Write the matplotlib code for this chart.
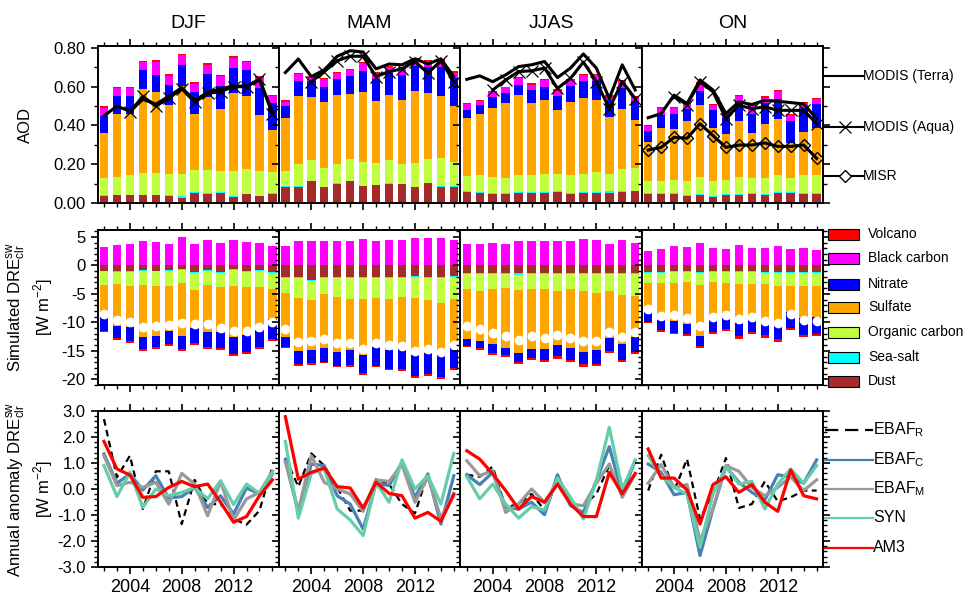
import numpy as np
import matplotlib
matplotlib.use('Agg')
import matplotlib.pyplot as plt
from matplotlib.lines import Line2D
from matplotlib.patches import Rectangle
from matplotlib.ticker import MultipleLocator, FixedLocator, FormatStrFormatter

plt.rcParams['font.family'] = ['Liberation Sans', 'DejaVu Sans']
plt.rcParams['axes.unicode_minus'] = False

seasons = ['DJF', 'MAM', 'JJAS', 'ON']
years = np.arange(2002, 2016)
nan = np.nan

# ---------------- AOD components (rows: DJF, MAM, JJAS, ON) ----------------
aod_dust = [
    [.035, .040, .040, .040, .040, .035, .028, .050, .045, .050, .030, .045, .035, .045],
    [.082, .082, .113, .082, .096, .113, .087, .092, .099, .096, .082, .101, .085, .082],
    [.056, .052, .049, .049, .052, .052, .052, .056, .049, .052, .052, .052, .057, .061],
    [.047, .049, .049, .038, .043, .033, .043, .043, .049, .043, .052, .052, .049, .049]]
aod_seasalt = [
    [.007, .002, .003, .003, .003, .007, .007, .005, .007, .005, .007, .003, .002, .005],
    [.005, .005, .002, .002, .005, .002, .002, .002, .005, .002, .002, .002, .005, .005],
    [.005, .003, .003, .003, .005, .003, .003, .005, .003, .003, .003, .009, .003, .003],
    [.005, .003, .003, .005, .003, .005, .003, .005, .003, .003, .005, .003, .003, .003]]
aod_oc = [
    [.087, .092, .104, .110, .110, .106, .113, .113, .117, .108, .127, .125, .129, .108],
    [.077, .113, .108, .097, .099, .113, .123, .113, .117, .104, .123, .125, .141, .123],
    [.078, .090, .082, .078, .090, .090, .096, .087, .090, .096, .106, .087, .117, .118],
    [.061, .064, .068, .070, .090, .075, .075, .085, .078, .083, .090, .075, .094, .094]]
aod_sulfate = [
    [.233, .327, .310, .433, .419, .360, .457, .292, .376, .323, .402, .381, .287, .219],
    [.277, .351, .323, .341, .355, .334, .360, .318, .334, .329, .370, .339, .323, .292],
    [.301, .313, .355, .386, .412, .370, .381, .334, .381, .391, .370, .297, .308, .247],
    [.200, .270, .261, .308, .370, .275, .233, .292, .230, .277, .287, .181, .219, .240]]
aod_nitrate = [
    [.087, .089, .097, .099, .087, .099, .108, .111, .122, .120, .130, .130, .141, .139],
    [.057, .078, .082, .077, .083, .094, .110, .113, .115, .127, .129, .136, .146, .141],
    [.042, .047, .056, .052, .052, .068, .068, .070, .083, .085, .101, .087, .106, .096],
    [.061, .070, .078, .066, .073, .090, .087, .103, .099, .108, .104, .110, .125, .125]]
aod_bc = [
    [.042, .045, .040, .045, .068, .049, .049, .045, .047, .047, .054, .045, .052, .038],
    [.024, .038, .023, .042, .033, .028, .040, .030, .030, .035, .031, .030, .035, .030],
    [.030, .023, .030, .028, .035, .028, .033, .026, .028, .031, .030, .017, .037, .023],
    [.023, .035, .031, .026, .031, .026, .023, .024, .043, .028, .038, .035, .024, .024]]
aod_volcano = [
    [.007, .005, .005, .005, .009, .009, .007, .007, .009, .005, .009, .005, .007, .005],
    [.007, .003, .005, .002, .007, .005, .005, .007, .009, .009, .009, .007, .007, .007],
    [.003, .003, .005, .005, .003, .009, .009, .010, .005, .009, .005, .007, .007, .005],
    [.007, .003, .005, .003, .014, .009, .003, .007, .003, .012, .005, .003, .007, .007]]

# ---------------- observed AOD ----------------
modis_terra = [
    [.449, .500, .473, .535, .510, .550, .595, .530, .570, .590, .603, .603, .635, .470],
    [.673, .743, .652, .687, .757, .786, .779, .692, .717, .713, .744, .717, .744, .652],
    [.638, .656, .626, .661, .704, .713, .730, .647, .696, .769, .696, .539, .713, .583],
    [.440, .461, .557, .513, .635, .583, .461, .522, .508, .530, .525, .518, .511, .435]]
modis_aqua = [
    [nan, nan, .470, .550, .500, .540, .590, .520, .565, .575, .600, .600, .640, .460],
    [nan, nan, .626, .678, .734, .757, .757, .652, .678, .692, .730, .670, .734, .626],
    [nan, nan, .583, .635, .678, .682, .696, .591, .643, .727, .626, .487, .626, .539],
    [nan, nan, .548, .508, .626, .574, .435, .504, .487, .496, .478, .478, .478, .409]]
misr = [
    [nan] * 14,
    [nan] * 14,
    [nan] * 14,
    [.273, .287, .339, .334, .409, .348, .287, .299, .299, .310, .292, .292, .299, .230]]

# ---------------- simulated DRE components (W m-2) ----------------
dre_bc = [
    [3.18, 3.53, 3.71, 4.24, 4.06, 3.71, 4.94, 3.71, 4.41, 3.88, 4.41, 4.06, 3.88, 3.35],
    [3.35, 4.24, 4.24, 4.24, 4.24, 4.24, 4.59, 4.24, 4.41, 4.41, 4.76, 4.76, 4.76, 4.41],
    [3.71, 3.71, 3.88, 3.71, 4.24, 4.24, 4.24, 4.24, 4.24, 4.59, 4.41, 3.71, 4.41, 3.88],
    [2.47, 2.82, 3.35, 3.18, 3.88, 3.00, 2.82, 3.53, 3.00, 3.00, 3.35, 2.82, 3.00, 2.65]]
dre_dust = [
    [-1.00, -1.06, -1.06, -0.88, -1.00, -0.88, -0.65, -1.24, -0.88, -1.24, -0.65, -1.06, -0.88, -1.24],
    [-2.12, -2.12, -2.65, -2.12, -2.12, -2.12, -2.12, -2.12, -2.12, -2.12, -1.94, -2.12, -2.12, -1.94],
    [-1.41, -1.41, -1.41, -1.41, -1.41, -1.41, -1.41, -1.41, -1.41, -1.41, -1.41, -1.41, -1.41, -1.41],
    [-1.24, -1.24, -1.06, -1.06, -1.24, -1.06, -1.06, -1.06, -1.06, -1.24, -1.24, -1.24, -1.24, -1.24]]
dre_seasalt = [
    [-0.05, -0.05, -0.12, -0.12, -0.05, -0.12, -0.18, -0.05, -0.12, -0.12, -0.18, -0.12, -0.12, -0.05],
    [-0.18, -0.05, -0.05, -0.05, -0.18, -0.18, -0.18, -0.05, -0.05, -0.05, -0.18, -0.18, -0.05, -0.18],
    [-0.18, -0.05, -0.05, -0.05, -0.35, -0.18, -0.18, -0.05, -0.12, -0.05, -0.05, -0.18, -0.05, -0.18],
    [-0.18, -0.05, -0.18, -0.18, -0.05, -0.18, -0.18, -0.18, -0.18, -0.05, -0.18, -0.05, -0.12, -0.12]]
dre_oc = [
    [-2.35, -2.12, -2.53, -2.53, -2.53, -2.71, -2.35, -3.00, -2.53, -2.53, -2.88, -2.71, -2.88, -2.82],
    [-2.47, -3.53, -3.35, -2.82, -3.18, -3.53, -3.53, -3.53, -3.71, -3.35, -3.53, -3.71, -4.41, -3.71],
    [-2.65, -3.00, -2.65, -2.47, -2.65, -2.65, -2.65, -3.00, -2.71, -3.00, -3.35, -3.00, -3.71, -3.71],
    [-1.76, -1.76, -1.94, -1.76, -2.12, -1.76, -1.94, -2.12, -2.12, -1.94, -2.29, -2.29, -2.35, -2.35]]
dre_sulfate = [
    [-5.65, -7.41, -7.06, -9.00, -8.82, -7.76, -9.18, -6.71, -8.12, -7.76, -8.82, -8.29, -6.88, -5.29],
    [-7.76, -9.35, -8.82, -9.53, -9.71, -9.00, -9.88, -8.65, -9.00, -9.00, -10.06, -9.35, -8.82, -8.47],
    [-8.65, -8.82, -9.71, -10.59, -10.94, -10.41, -10.41, -9.53, -10.24, -10.76, -10.06, -8.12, -8.65, -7.24],
    [-4.94, -6.53, -6.53, -7.24, -9.00, -6.53, -5.65, -6.71, -5.65, -6.53, -6.53, -4.59, -5.47, -5.29]]
dre_nitrate = [
    [-2.47, -2.12, -2.47, -2.12, -1.94, -2.29, -2.29, -2.65, -2.65, -2.82, -3.00, -3.00, -3.53, -3.53],
    [-1.76, -2.29, -2.29, -2.47, -2.47, -2.65, -3.18, -3.35, -3.35, -3.71, -3.71, -3.71, -4.24, -3.71],
    [-1.24, -1.24, -1.59, -1.24, -1.59, -1.59, -1.94, -1.94, -2.12, -2.12, -2.47, -2.29, -2.82, -2.65],
    [-1.76, -1.76, -2.12, -1.76, -1.76, -2.12, -2.29, -2.29, -2.65, -2.47, -2.65, -2.82, -3.00, -3.00]]
dre_volcano = [
    [-0.18, -0.35, -0.35, -0.35, -0.35, -0.35, -0.35, -0.35, -0.35, -0.35, -0.35, -0.35, -0.35, -0.35],
    [-0.18, -0.35, -0.35, -0.18, -0.18, -0.35, -0.35, -0.18, -0.18, -0.35, -0.35, -0.35, -0.35, -0.35],
    [-0.18, -0.35, -0.35, -0.35, -0.35, -0.35, -0.35, -0.53, -0.35, -0.53, -0.35, -0.35, -0.35, -0.35],
    [-0.18, -0.35, -0.18, -0.35, -0.35, -0.35, -0.35, -0.53, -0.35, -0.53, -0.53, -0.35, -0.35, -0.35]]

# ---------------- annual anomalies of DRE (W m-2) ----------------
ebaf_r = [
    [2.69, 0.45, 1.28, -0.77, 0.68, 0.68, -1.35, 0.35, -0.58, -0.58, -1.15, -1.37, -0.83, 0.86],
    [1.20, 0.09, 1.37, 0.90, 0.06, -0.83, -0.83, 0.38, 0.19, -0.58, -0.94, 0.58, -1.22, -0.13],
    [0.55, 0.47, 0.86, -0.71, -0.58, -0.19, -0.81, 0.26, -0.58, -0.64, -0.19, 0.90, -0.26, 0.58],
    [-0.06, 1.32, -0.06, 1.15, -1.15, -0.19, 1.19, -0.73, -0.58, 0.29, -0.47, -0.32, -0.06, -0.06]]
ebaf_c = [
    [1.35, 0.22, 0.58, -0.04, 0.51, -0.35, -0.29, 0.06, -0.71, -0.26, -0.96, 0.04, -0.19, 0.58],
    [1.12, -0.90, 0.96, 0.90, -0.26, -0.58, -1.54, 0.22, 0.13, 1.03, -0.32, 0.58, -1.35, 0.51],
    [0.55, 0.17, 0.64, -0.71, -0.77, -0.51, -0.99, 0.55, -0.64, -0.90, 0.32, 1.63, -0.19, 1.09],
    [0.96, 0.64, -0.22, -0.13, -2.56, -0.77, 0.86, 0.26, -0.13, -0.42, 0.55, 0.45, 0.22, 1.12]]
ebaf_m = [
    [1.28, 0.13, 0.26, 0.06, 0.26, -0.58, 0.60, 0.19, -1.03, 0.29, -1.19, -0.38, -0.13, 0.68],
    [1.03, -0.83, 1.28, 0.26, 0.00, -0.19, -0.86, 0.35, 0.29, 0.94, -0.51, 0.47, -1.12, -0.17],
    [1.09, 0.51, 0.71, -0.90, -0.58, 0.00, -0.51, 0.26, -0.58, -0.64, 0.22, 0.96, -0.32, 0.58],
    [0.22, 0.94, 0.06, 0.17, -1.99, -0.77, 0.90, 0.68, 0.06, -0.26, 0.06, 0.47, -0.06, 0.35]]
syn = [
    [0.90, -0.29, 0.64, -0.71, 0.00, -0.26, -0.13, 0.06, -0.38, 0.32, -0.60, 0.19, -0.17, 0.64],
    [1.83, -1.12, 0.60, 0.77, -0.77, -1.19, -1.79, 0.26, -0.51, 1.12, 0.00, 0.51, -0.58, 1.37],
    [0.47, -0.38, 0.19, -0.58, -1.12, -0.68, -0.81, 0.42, -0.32, -1.15, 0.32, 2.37, 0.00, 1.12],
    [1.28, 0.51, 0.06, -0.19, -2.24, -0.19, 0.86, 0.19, 0.29, -0.77, 0.19, 0.77, 0.22, 0.90]]
am3 = [
    [1.83, 0.77, 0.54, -0.32, -0.29, 0.06, 0.29, 0.09, 0.19, -0.51, -1.28, -1.06, -0.26, 0.35],
    [2.78, 0.38, 0.64, 0.81, 0.09, 0.04, -0.73, 0.26, -0.17, -0.26, -1.12, -0.90, -1.24, -0.22],
    [1.47, 1.15, 0.58, -0.06, -0.77, -0.29, -0.51, 0.19, -0.58, -1.06, -1.06, 0.64, -0.19, 0.60],
    [1.54, 0.42, 0.42, -0.04, -1.35, 0.17, 0.47, -0.13, 0.17, -0.51, -0.86, 0.73, -0.26, -0.38]]

comp_names = ['Volcano', 'Black carbon', 'Nitrate', 'Sulfate', 'Organic carbon', 'Sea-salt', 'Dust']
comp_colors = ['#FF0000', '#FF00FF', '#0000FF', '#FFA500', '#BFFF3F', '#00FFFF', '#A52A2A']
col = dict(zip(comp_names, comp_colors))

# ---------------- figure layout ----------------
W, H = 968, 608
fig = plt.figure(figsize=(W / 100, H / 100), dpi=100)


def px_axes(x0, y0, x1, y1):
    return fig.add_axes([x0 / W, 1 - y1 / H, (x1 - x0) / W, (y1 - y0) / H])


pw = 181.4
lefts = [97.5 + pw * i for i in range(4)]
rows = [(46, 203), (230, 385), (411, 567)]
bw = 0.65


def style(ax, i, r):
    ax.set_xlim(2001.5, 2015.5)
    ax.xaxis.set_major_locator(FixedLocator([2004, 2008, 2012]))
    ax.xaxis.set_minor_locator(FixedLocator(years))
    ax.tick_params(which='both', direction='out', top=True, right=True,
                   labelbottom=(r == 2), labelleft=(i == 0))
    ax.tick_params(which='major', length=5, width=1.2, labelsize=12)
    ax.tick_params(which='minor', length=3, width=1.0)
    ax.tick_params(axis='x', which='major', labelsize=13)
    for s in ax.spines.values():
        s.set_linewidth(1.4)
        s.set_zorder(10)


for i, s in enumerate(seasons):
    # ---------- AOD ----------
    ax = px_axes(lefts[i], rows[0][0], lefts[i] + pw, rows[0][1])
    stack = [aod_dust[i], aod_seasalt[i], aod_oc[i], aod_sulfate[i],
             aod_nitrate[i], aod_bc[i], aod_volcano[i]]
    names = ['Dust', 'Sea-salt', 'Organic carbon', 'Sulfate', 'Nitrate', 'Black carbon', 'Volcano']
    bottom = np.zeros(14)
    for vals, nm in zip(stack, names):
        ax.bar(years, vals, bw, bottom=bottom, color=col[nm], linewidth=0, zorder=2)
        bottom = bottom + np.array(vals)
    ax.plot(years, modis_terra[i], color='black', lw=2.2, zorder=4)
    ax.plot(years, modis_aqua[i], color='black', lw=2.2, marker='x', ms=9,
            mew=0.9, zorder=4)
    ax.plot(years, misr[i], color='black', lw=2.2, marker='D', ms=6.5,
            mfc='none', mec='black', mew=1.0, zorder=4)
    ax.set_ylim(0, 0.81)
    ax.yaxis.set_major_locator(MultipleLocator(0.2))
    ax.yaxis.set_minor_locator(MultipleLocator(0.1))
    ax.yaxis.set_major_formatter(FormatStrFormatter('%.2f'))
    style(ax, i, 0)
    ax.set_title(s, fontsize=14, pad=13)

    # ---------- DRE ----------
    ax = px_axes(lefts[i], rows[1][0], lefts[i] + pw, rows[1][1])
    ax.bar(years, dre_bc[i], bw, color=col['Black carbon'], linewidth=0, zorder=2)
    neg = [dre_dust[i], dre_seasalt[i], dre_oc[i], dre_sulfate[i], dre_nitrate[i], dre_volcano[i]]
    negn = ['Dust', 'Sea-salt', 'Organic carbon', 'Sulfate', 'Nitrate', 'Volcano']
    bottom = np.zeros(14)
    for vals, nm in zip(neg, negn):
        ax.bar(years, vals, bw, bottom=bottom, color=col[nm], linewidth=0, zorder=2)
        bottom = bottom + np.array(vals)
    net = np.array(dre_bc[i]) + bottom
    ax.plot(years, net, linestyle='none', marker='o', ms=6, mfc='white',
            mec='white', zorder=4)
    ax.set_ylim(-21, 6.2)
    ax.yaxis.set_major_locator(MultipleLocator(5))
    ax.yaxis.set_minor_locator(MultipleLocator(1))
    style(ax, i, 1)

    # ---------- anomalies ----------
    ax = px_axes(lefts[i], rows[2][0], lefts[i] + pw, rows[2][1])
    ax.plot(years, ebaf_r[i], color='black', lw=1.6, dashes=(3, 2), zorder=3)
    ax.plot(years, ebaf_c[i], color='#4682B4', lw=2.3, zorder=3)
    ax.plot(years, ebaf_m[i], color='#999999', lw=2.3, zorder=3)
    ax.plot(years, syn[i], color='#66CDAA', lw=2.3, zorder=3)
    ax.plot(years, am3[i], color='#FF0000', lw=2.3, zorder=4)
    ax.set_ylim(-3, 3)
    ax.yaxis.set_major_locator(MultipleLocator(1))
    ax.yaxis.set_minor_locator(MultipleLocator(0.2))
    ax.yaxis.set_major_formatter(FormatStrFormatter('%.1f'))
    style(ax, i, 2)

# ---------------- y labels ----------------
fig.text(25 / W, 1 - 125 / H, 'AOD', rotation=90, ha='center', va='center', fontsize=12)
fig.text(30 / W, 1 - 307 / H, 'Simulated $\\mathregular{DRE^{sw}_{clr}}$\n[W m$^{\\mathregular{-2}}$]',
         rotation=90, ha='center', va='center', fontsize=12, multialignment='center')
fig.text(30 / W, 1 - 489 / H, 'Annual anomaly $\\mathregular{DRE^{sw}_{clr}}$\n[W m$^{\\mathregular{-2}}$]',
         rotation=90, ha='center', va='center', fontsize=12, multialignment='center')

# ---------------- right-hand legends ----------------
def fx(x):
    return x / W


def fy(y):
    return 1 - y / H


# AOD observations
for y, lab, mk in [(76, 'MODIS (Terra)', None), (126.7, 'MODIS (Aqua)', 'x'), (176, 'MISR', 'D')]:
    fig.add_artist(Line2D([fx(825), fx(863)], [fy(y), fy(y)], color='black', lw=1.5,
                          transform=fig.transFigure))
    if mk == 'x':
        fig.add_artist(Line2D([fx(845)], [fy(y)], marker='x', ms=8, mew=0.9, color='black',
                              transform=fig.transFigure))
    elif mk == 'D':
        fig.add_artist(Line2D([fx(845)], [fy(y)], marker='D', ms=6, mew=1.0, mfc='white',
                              mec='black', transform=fig.transFigure))
    fig.text(fx(863), fy(y), lab, ha='left', va='center', fontsize=10)

# components
for y, nm in zip([234, 258, 284, 307, 332, 357, 381], comp_names):
    fig.add_artist(Rectangle((fx(828), fy(y + 5.5)), fx(31), 11 / H, facecolor=col[nm],
                             edgecolor='black', lw=0.8, transform=fig.transFigure))
    fig.text(fx(868), fy(y), nm, ha='left', va='center', fontsize=10)

# anomaly data sets
leg = [(430, 'EBAF$_{\\mathregular{R}}$', 'black', True),
       (460, 'EBAF$_{\\mathregular{C}}$', '#4682B4', False),
       (489, 'EBAF$_{\\mathregular{M}}$', '#999999', False),
       (518, 'SYN', '#66CDAA', False),
       (548, 'AM3', '#FF0000', False)]
for y, lab, c, dashed in leg:
    ln = Line2D([fx(825), fx(873)], [fy(y), fy(y)], color=c, lw=1.6,
                transform=fig.transFigure)
    if dashed:
        ln.set_dashes((6, 3))
    fig.add_artist(ln)
    fig.text(fx(873), fy(y), lab, ha='left', va='center', fontsize=11.5)

fig.savefig('out.png', dpi=100)
